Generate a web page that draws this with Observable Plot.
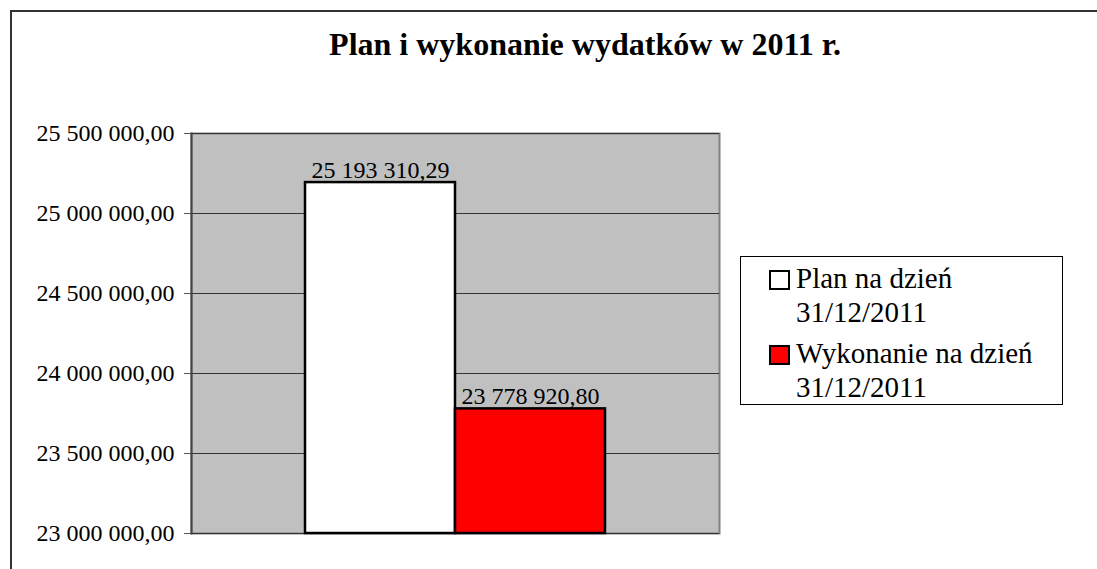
<!DOCTYPE html>
<html>
<head>
<meta charset="utf-8">
<script src="https://cdn.jsdelivr.net/npm/d3@7"></script>
<script src="https://cdn.jsdelivr.net/npm/@observablehq/plot@0.6"></script>
<style>
  html, body { margin: 0; padding: 0; background: #fff; }
  #wrap { position: relative; width: 1097px; height: 569px; overflow: hidden; font-family: "Liberation Serif", "Times New Roman", serif; }
  #frameTop { position: absolute; left: 10px; top: 10px; width: 1100px; height: 0; border-top: 2px solid #333; }
  #frameLeft { position: absolute; left: 10px; top: 10px; width: 0; height: 600px; border-left: 2px solid #333; }
  #title { position: absolute; left: 285px; width: 600px; top: 24px; text-align: center; font-weight: bold; font-size: 32px; line-height: 40px; color: #000; }
  #chart { position: absolute; left: 0; top: 0; }
  #legend { position: absolute; left: 740px; top: 256px; width: 321px; height: 147px; border: 1px solid #000; background: #fff; }
  .item { position: absolute; left: 28px; font-size: 29px; line-height: 34px; color: #000; }
  .sw { position: absolute; left: 0; top: 9px; width: 17px; height: 16px; border: 2px solid #000; }
  .lab { position: absolute; left: 27px; top: 0; width: 260px; white-space: normal; }
</style>
</head>
<body>
<div id="wrap">
  <div id="frameTop"></div>
  <div id="frameLeft"></div>
  <div id="chart"></div>
  <div id="title"></div>
  <div id="legend"></div>
</div>
<script>
const title = "Plan i wykonanie wydatków w 2011 r.";
const series = ["Plan na dzień 31/12/2011", "Wykonanie na dzień 31/12/2011"];
const values = [25193310.29, 23778920.80];
const colors = ["#ffffff", "#ff0000"];
const yTicks = [23000000, 23500000, 24000000, 24500000, 25000000, 25500000];

const locale = d3.formatLocale({decimal: ",", thousands: " ", grouping: [3], currency: ["", ""]});
const fmt = locale.format(",.2f");

const data = series.map((s, i) => ({series: s, value: values[i], color: colors[i]}));
const yMin = yTicks[0], yMax = yTicks[yTicks.length - 1];

document.getElementById("title").textContent = title;

const serif = "Liberation Serif";
const W = 1097, H = 569;
const chart = Plot.plot({
  width: W,
  height: H,
  marginLeft: 191,
  marginRight: W - 719,
  marginTop: 133,
  marginBottom: H - 533,
  style: {"font-family": serif, "font-size": "24px", "color": "#000", "background": "transparent"},
  x: {domain: series, paddingInner: 0, paddingOuter: 0.75, axis: null},
  y: {domain: [yMin, yMax]},
  marks: [
    Plot.frame({fill: "#c0c0c0", stroke: "#808080", strokeWidth: 2}),
    Plot.gridY(yTicks, {stroke: "#333", strokeOpacity: 1, strokeWidth: 1.2}),
    Plot.axisY({ticks: yTicks, tickFormat: fmt, tickSize: 7, tickPadding: 10, fontSize: 24, fontFamily: serif, stroke: "#555", label: null}),
    Plot.frame({anchor: "left", stroke: "#444", strokeWidth: 2}),
    Plot.barY(data, {x: "series", y1: yMin, y2: "value", fill: "color", stroke: "#000", strokeWidth: 2.5, inset: 0}),
    Plot.text(data, {x: "series", y: "value", text: d => fmt(d.value), lineAnchor: "bottom", dy: -5, fontSize: 24, fontFamily: serif, fill: "#000"})
  ]
});
document.getElementById("chart").appendChild(chart);

const legend = document.getElementById("legend");
series.forEach((s, i) => {
  const item = document.createElement("div");
  item.className = "item";
  item.style.top = (i === 0 ? 4 : 79) + "px";
  const sw = document.createElement("div");
  sw.className = "sw";
  sw.style.background = colors[i];
  const lab = document.createElement("div");
  lab.className = "lab";
  lab.textContent = s;
  item.appendChild(sw);
  item.appendChild(lab);
  legend.appendChild(item);
});
</script>
</body>
</html>
